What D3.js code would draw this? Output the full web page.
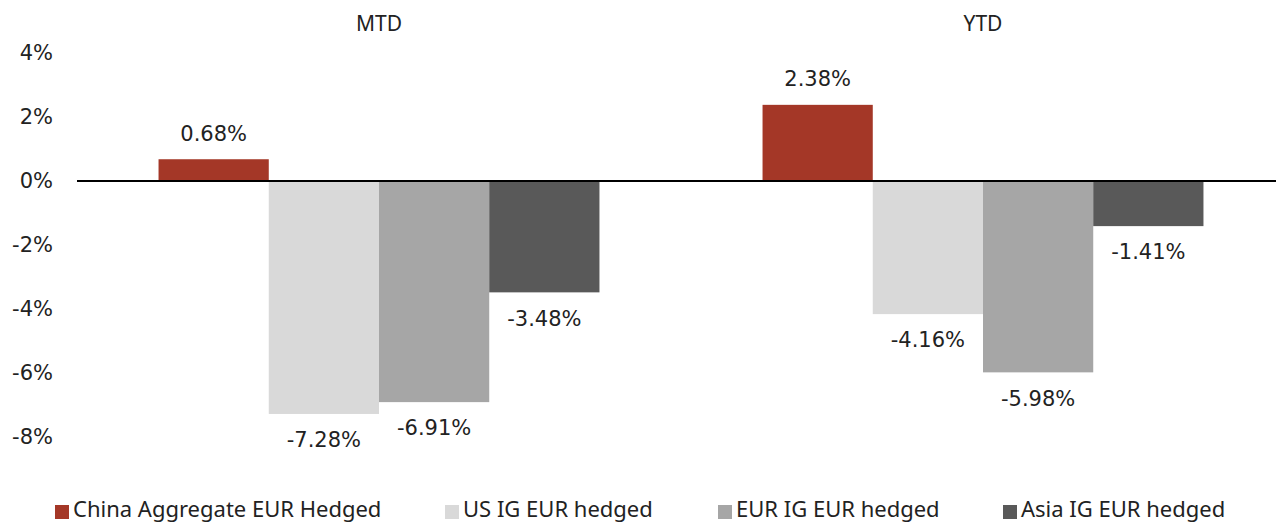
<!DOCTYPE html>
<html><head><meta charset="utf-8">
<script src="https://cdn.jsdelivr.net/npm/d3@7"></script>
<style>
body{margin:0;background:#fff;}
text{font-family:"Noto Sans",sans-serif;fill:#222;}
.num{font-family:"DejaVu Sans",sans-serif;}
</style></head>
<body><svg id="c" width="1276" height="523"></svg>
<script>
const categories = ["MTD","YTD"];
const seriesNames = ["China Aggregate EUR Hedged","US IG EUR hedged","EUR IG EUR hedged","Asia IG EUR hedged"];
const seriesColors = ["#A43727","#D9D9D9","#A6A6A6","#595959"];
const chinaAgg = [0.68, 2.38];
const usIG = [-7.28, -4.16];
const eurIG = [-6.91, -5.98];
const asiaIG = [-3.48, -1.41];
const yTicks = [4,2,0,-2,-4,-6,-8];

const values = [chinaAgg, usIG, eurIG, asiaIG];
const svg = d3.select("#c");
const fs = 21;

const y = d3.scaleLinear().domain([-8,4]).range([437,53]);
const x0 = d3.scaleBand().domain(categories).range([77,1285]).paddingInner(0.27).paddingOuter(0.135);
const x1 = d3.scaleBand().domain(seriesNames).range([0,x0.bandwidth()]);

// y axis labels
const yAxis = d3.axisLeft(y).tickValues(yTicks).tickFormat(d=>d+"%").tickSize(0).tickPadding(0);
const ya = svg.append("g").attr("transform","translate(53,0)").call(yAxis);
ya.select(".domain").remove();
ya.selectAll("text").attr("class","num").style("font-size",fs+"px").attr("fill","#222")
  .style("font-family","'DejaVu Sans',sans-serif");

// category titles
svg.selectAll(".cat").data(categories).enter().append("text")
  .attr("x",d=>x0(d)+x0.bandwidth()/2).attr("y",24).attr("dy","0.35em")
  .attr("text-anchor","middle").style("font-size",fs+"px").text(d=>d);

// bars
const data = [];
categories.forEach((c,i)=>seriesNames.forEach((s,j)=>data.push({c,s,j,v:values[j][i]})));
svg.selectAll(".bar").data(data).enter().append("rect")
  .attr("x",d=>x0(d.c)+x1(d.s)).attr("width",x1.bandwidth())
  .attr("y",d=>y(Math.max(0,d.v))).attr("height",d=>Math.abs(y(d.v)-y(0)))
  .attr("fill",d=>seriesColors[d.j]);

// zero line
svg.append("line").attr("x1",77).attr("x2",1276).attr("y1",y(0)).attr("y2",y(0))
  .attr("stroke","#000").attr("stroke-width",2);

// value labels
svg.selectAll(".lbl").data(data).enter().append("text").attr("class","num")
  .attr("x",d=>x0(d.c)+x1(d.s)+x1.bandwidth()/2)
  .attr("y",d=>d.v>=0? y(d.v)-26 : y(d.v)+26).attr("dy","0.35em")
  .attr("text-anchor","middle").style("font-size",fs+"px").text(d=>d.v.toFixed(2)+"%");

// legend
const legX = [55,445,718,1003];
const lg = svg.selectAll(".lg").data(seriesNames).enter().append("g")
  .attr("transform",(d,i)=>`translate(${legX[i]},0)`);
lg.append("rect").attr("x",0).attr("y",505).attr("width",14).attr("height",14).attr("fill",(d,i)=>seriesColors[i]);
lg.append("text").attr("x",18).attr("y",517).style("font-size","22px").text(d=>d);
</script></body></html>
